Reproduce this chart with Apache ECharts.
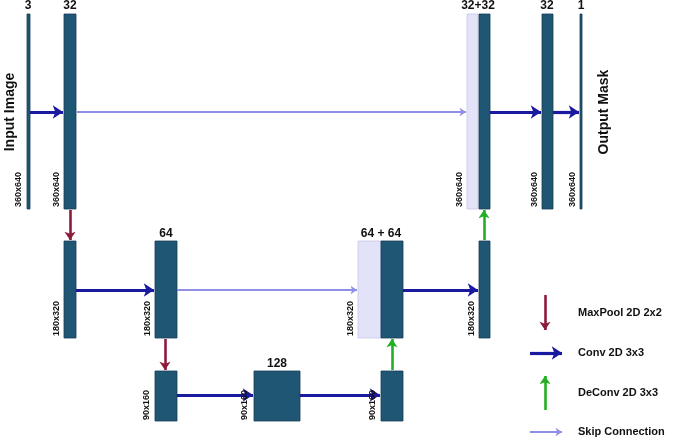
<!DOCTYPE html><html><head><meta charset="utf-8"><script src="https://cdn.jsdelivr.net/npm/echarts@6/dist/echarts.min.js"></script>
<style>html,body{margin:0;background:#fff}#c{width:685px;height:439px}</style></head><body><div id="c"></div><script>
// blocks: [x0,x1,y0,y1,type]
const blocks=[[27,30,14,209,'d'],[64,76,14,209,'d'],[467,478,14,209,'l'],[479,490,14,209,'d'],[542,553,14,209,'d'],[580,582,14,209,'d'],
[64,76,241,338,'d'],[155,177,241,338,'d'],[358,381,241,338,'l'],[381,403,241,338,'d'],[479,490,241,338,'d'],
[155,177,371,421,'d'],[254,300,371,421,'d'],[381,403,371,421,'d']];
const conv=[[30,112,63,112],[490,112,541,112],[553,112,579,112],[76,290,154,290],[403,290,478,290],[177,395,253,395],[300,395,380,395],[530,353,562,353]];
const skip=[[77,112,466,112],[177,290,357,290],[530,432,562,432]];
const pool=[[70,210,70,240],[165,339,165,370],[545,295,545,330]];
const deconv=[[392,370,392,339],[484,240,484,210],[545,410,545,376]];
const topLabels=[['3',28,6],['32',70,6],['32+32',478,6],['32',547,6],['1',581,6],['64',166,234],['64 + 64',381,234],['128',277,364]];
const dimLabels=[['360x640',19,207],['360x640',57,207],['360x640',460,207],['360x640',535,207],['360x640',573,207],
['180x320',57,336],['180x320',148,336],['180x320',351,336],['180x320',472,336],['90x160',147,420],['90x160',245,420],['90x160',373,420]];
const legend=[['MaxPool 2D 2x2',578,313],['Conv 2D 3x3',578,353],['DeConv 2D 3x3',578,393],['Skip Connection',578,432]];
const sideLabels=[['Input Image',10,112],['Output Mask',604,112]];
const chart=echarts.init(document.getElementById('c'));
const arrows=(d,color,w)=>({type:'lines',coordinateSystem:'cartesian2d',data:d.map(a=>({coords:[[a[0],a[1]],[a[2],a[3]]]})),
 symbol:['none','arrow'],symbolSize:w*3.2,lineStyle:{color,width:w,opacity:1},z:5});
const F='Liberation Sans';
chart.setOption({animation:false,
 xAxis:{type:'value',min:0,max:685,show:false},yAxis:{type:'value',min:0,max:439,inverse:true,show:false},
 grid:{left:0,right:0,top:0,bottom:0},
 series:[
 {type:'custom',data:blocks,renderItem:(p,api)=>{const b=blocks[p.dataIndex];const a=api.coord([b[0],b[2]]),c=api.coord([b[1],b[3]]);
  return {type:'rect',shape:{x:a[0],y:a[1],width:c[0]-a[0],height:c[1]-a[1]},style:b[4]=='d'?{fill:'#1f5673',stroke:'#163e55',lineWidth:0.8}:{fill:'#e2e2f8',stroke:'#c8c8ee',lineWidth:0.8}};}},
 arrows(skip,'#8f8fe6',2),arrows(conv,'#1a1aa0',3.2),arrows(pool,'#8c1b3c',2.6),arrows(deconv,'#22b022',2.6),
 {type:'custom',data:topLabels,z:10,renderItem:(p,api)=>{const t=topLabels[p.dataIndex];const a=api.coord([t[1],t[2]]);
  return {type:'text',style:{text:t[0],x:a[0],y:a[1],align:'center',verticalAlign:'middle',font:'bold 12px '+F,fill:'#111'}};}},
 {type:'custom',data:dimLabels,z:10,renderItem:(p,api)=>{const t=dimLabels[p.dataIndex];const a=api.coord([t[1],t[2]]);
  return {type:'text',x:a[0],y:a[1],rotation:Math.PI/2,style:{text:t[0],x:0,y:0,align:'left',verticalAlign:'middle',font:'bold 9px '+F,fill:'#111'}};}},
 {type:'custom',data:sideLabels,z:10,renderItem:(p,api)=>{const t=sideLabels[p.dataIndex];const a=api.coord([t[1],t[2]]);
  return {type:'text',x:a[0],y:a[1],rotation:Math.PI/2,style:{text:t[0],x:0,y:0,align:'center',verticalAlign:'middle',font:'bold 14px '+F,fill:'#111'}};}},
 {type:'custom',data:legend,z:10,renderItem:(p,api)=>{const t=legend[p.dataIndex];const a=api.coord([t[1],t[2]]);
  return {type:'text',style:{text:t[0],x:a[0],y:a[1],align:'left',verticalAlign:'middle',font:'bold 11px '+F,fill:'#111'}};}}
 ]});
</script></body></html>
